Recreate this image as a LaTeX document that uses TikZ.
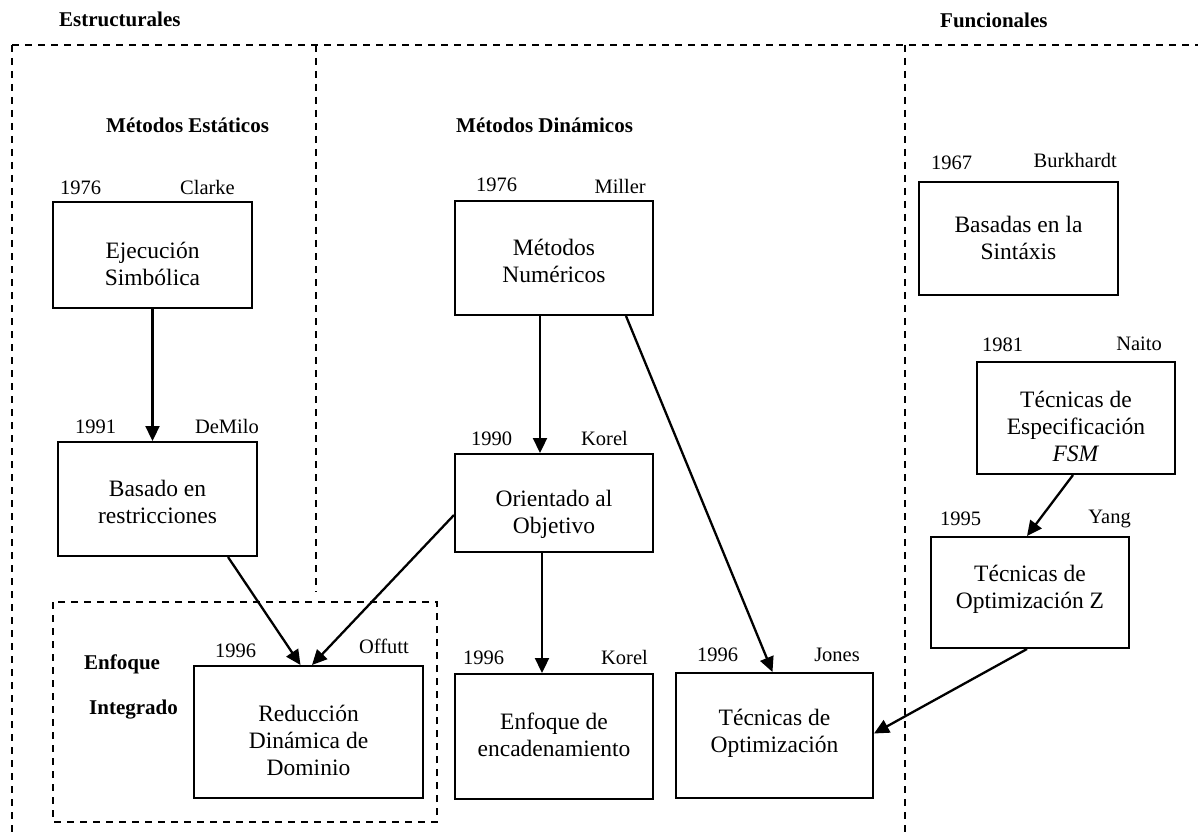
\documentclass[tikz,border=0pt]{standalone}
\usepackage{fontspec}
\setmainfont{Liberation Serif}
\usetikzlibrary{arrows.meta,calc}

\tikzset{
  frame/.style={draw, line width=1.9pt, dash pattern=on 7pt off 6pt},
  boxshape/.style={draw, line width=2pt, rectangle, inner sep=0pt},
  boxtext/.style={align=center, inner sep=0pt, font=\fontsize{23.5}{27}\selectfont},
  tag/.style={inner sep=0pt, font=\fontsize{20.5}{24}\selectfont},
  head/.style={inner sep=0pt, font=\fontsize{21}{25}\selectfont\bfseries},
  link/.style={line width=2.3pt, -{Triangle[length=15pt,width=14pt]}},
}

% box: name, left, top, right, bottom, text centre y, text
\newcommand\mkbox[7]{%
  \node[boxshape, minimum width={(#4-#2)*1pt}, minimum height={(#5-#3)*1pt}]
    (#1) at ({(#2+#4)/2},{(#3+#5)/2}) {};
  \node[boxtext] (#1-t) at ({(#2+#4)/2},#6) {#7};
}

\begin{document}
\begin{tikzpicture}[x=1pt, y=-1pt]
  \useasboundingbox[fill=white] (0,0) rectangle (1198,834);

  % frame lines
  \coordinate (tl) at (12,45);
  \coordinate (tr) at (1198,45);
  \coordinate (bl) at (12,834);
  \draw[frame] (tl) -- (tr);
  \draw[frame] (tl) -- (bl);
  \coordinate (s1) at (316,45);
  \coordinate (s1b) at (316,592);
  \draw[frame] (s1) -- (s1b);
  \coordinate (f1) at (905,45);
  \coordinate (f1b) at (905,834);
  \draw[frame] (f1) -- (f1b);
  \coordinate (ei1) at (53,602);
  \coordinate (ei2) at (437,822);
  \draw[frame] (ei1) rectangle (ei2);

  % headings
  \node[head, anchor=base west] (hEst) at (59,27) {Estructurales};
  \node[head, anchor=base west] (hFun) at (940,28) {Funcionales};
  \node[head, anchor=base west] (hSta) at (106,133) {Métodos Estáticos};
  \node[head, anchor=base west] (hDin) at (456,133) {Métodos Dinámicos};
  \node[head, anchor=base west] (hEnf) at (84,669) {Enfoque};
  \node[head, anchor=base west] (hInt) at (89,714) {Integrado};

  % boxes
  \mkbox{ejec}{53}{202}{252}{308}{263.5}{Ejecución\\Simbólica}
  \mkbox{basado}{58}{442}{257}{556}{501.5}{Basado en\\restricciones}
  \mkbox{num}{455}{201}{653}{315}{261}{Métodos\\Numéricos}
  \mkbox{orient}{455}{454}{653}{552}{514}{Orientado al\\Objetivo}
  \mkbox{reduc}{194}{666}{423}{798}{740}{Reducción\\Dinámica de\\Dominio}
  \mkbox{encad}{455}{674}{653}{799}{735}{Enfoque de\\encadenamiento}
  \mkbox{optim}{676}{673}{873}{798}{733.5}{Técnicas de\\Optimización}
  \mkbox{sint}{919}{182}{1118}{295}{238}{Basadas en la\\Sintáxis}
  \mkbox{fsm}{977}{362}{1175}{474}{426}{Técnicas de\\Especificación\\\textit{FSM}}
  \mkbox{optz}{931}{537}{1129}{648}{589}{Técnicas de\\Optimización Z}

  % years and authors
  \node[tag, anchor=base west] (y1) at (60,195) {1976};
  \node[tag, anchor=base east] (a1) at (235,195) {Clarke};
  \node[tag, anchor=base west] (y2) at (75,433) {1991};
  \node[tag, anchor=base east] (a2) at (259,433) {DeMilo};
  \node[tag, anchor=base west] (y3) at (476,192) {1976};
  \node[tag, anchor=base east] (a3) at (646,194) {Miller};
  \node[tag, anchor=base west] (y4) at (471,445) {1990};
  \node[tag, anchor=base east] (a4) at (628,445) {Korel};
  \node[tag, anchor=base west] (y5) at (215,657) {1996};
  \node[tag, anchor=base east] (a5) at (409,653) {Offutt};
  \node[tag, anchor=base west] (y6) at (463,664) {1996};
  \node[tag, anchor=base east] (a6) at (648,664) {Korel};
  \node[tag, anchor=base west] (y7) at (697,661) {1996};
  \node[tag, anchor=base east] (a7) at (860,661) {Jones};
  \node[tag, anchor=base west] (y8) at (931,170) {1967};
  \node[tag, anchor=base east] (a8) at (1117,168) {Burkhardt};
  \node[tag, anchor=base west] (y9) at (982,351) {1981};
  \node[tag, anchor=base east] (a9) at (1162,350) {Naito};
  \node[tag, anchor=base west] (y10) at (940,525) {1995};
  \node[tag, anchor=base east] (a10) at (1131,523) {Yang};

  % connectors
  \draw[link] (ejec.south) -- (ejec.south |- basado.north);
  \draw[link] ([xshift=-14pt]num.south) -- ([xshift=-14pt]orient.north);
  \draw[link] ([xshift=-28pt]num.south east) -- ([xshift=-2pt]optim.north);
  \draw[link] ([xshift=-30pt]basado.south east) -- ([xshift=-8pt]reduc.north);
  \draw[link] ([yshift=-12pt]orient.west) -- ([xshift=3.5pt]reduc.north);
  \draw[link] ([xshift=-12pt]orient.south) -- ([xshift=-12pt]encad.north);
  \draw[link] ([xshift=-3pt]fsm.south) -- ([xshift=-3pt]optz.north);
  \draw[link] ([xshift=-3pt]optz.south) -- ([yshift=2pt]optim.east);
\end{tikzpicture}
\end{document}
